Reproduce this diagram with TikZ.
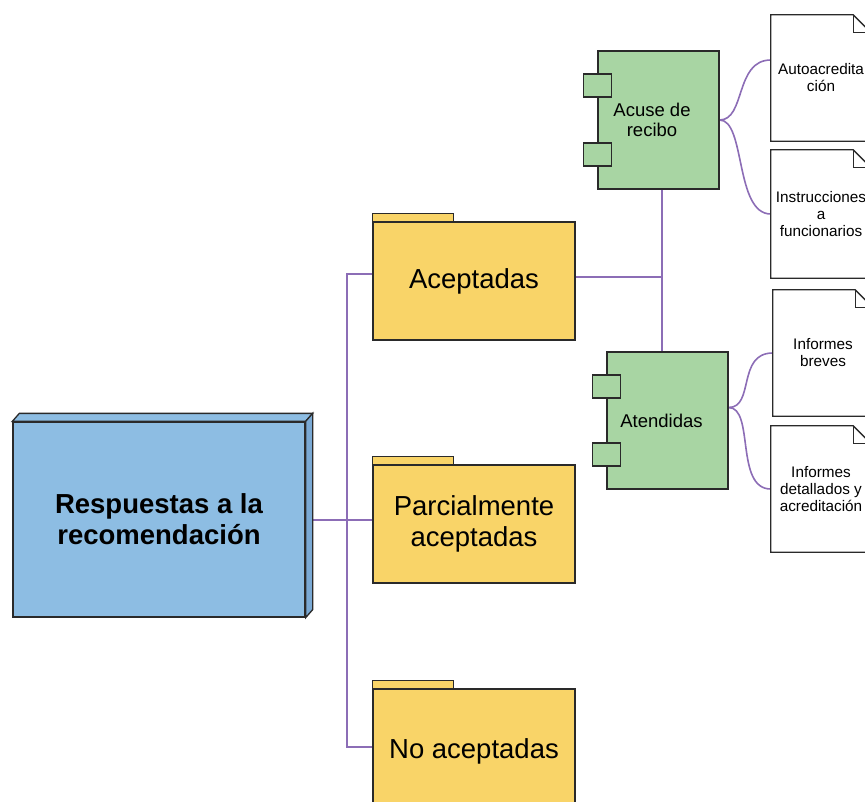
\documentclass[tikz,border=0pt]{standalone}
\usepackage{fontspec}
\setmainfont{Liberation Sans}
\usetikzlibrary{backgrounds,calc}
\definecolor{bluef}{HTML}{8DBDE3}
\definecolor{blues}{HTML}{7AA9D4}
\definecolor{yellowf}{HTML}{F9D468}
\definecolor{greenf}{HTML}{A8D5A3}
\definecolor{purp}{HTML}{8C6DB6}
\definecolor{edge}{HTML}{2A2A2A}
\tikzset{
  outl/.style={draw=edge, line width=1.3pt, inner sep=0pt},
  folder/.style={outl, fill=yellowf, minimum width=202pt, minimum height=118pt, font=\fontsize{27.5}{31}\selectfont, align=center},
  comp/.style={outl, fill=greenf, minimum width=121pt, minimum height=138pt},
  comptext/.style={font=\fontsize{18.5}{20.5}\selectfont, align=center, inner sep=0pt},
  port/.style={outl, fill=greenf, minimum width=28pt, minimum height=23pt},
  docnode/.style={inner sep=0pt, minimum width=100pt, minimum height=126pt, font=\fontsize{15.3}{17}\selectfont, align=center},
  conn/.style={draw=purp, line width=1.6pt},
}
\begin{document}
\begin{tikzpicture}[x=1pt,y=-1pt]
\useasboundingbox (0,0) rectangle (865,801);
% main box
\node[outl, fill=bluef, minimum width=292pt, minimum height=195pt, font=\bfseries\fontsize{27.5}{31}\selectfont, align=center] (resp) at (159,519.5) {Respuestas a la\\recomendación};
\filldraw[outl, fill=bluef] (resp.north west) -- ++(7,-8) -- ($(resp.north east)+(7,-8)$) -- (resp.north east) -- cycle;
\filldraw[outl, fill=blues] (resp.north east) -- ++(7,-8) -- ($(resp.south east)+(7,-8)$) -- (resp.south east) -- cycle;
% folders
\node[folder] (acep) at (474,281) {Aceptadas};
\node[folder] (parc) at (474,524) {Parcialmente\\aceptadas};
\node[folder, minimum height=124pt] (noac) at (474,751) {No aceptadas};
\foreach \f in {acep,parc,noac}{
  \filldraw[outl, fill=yellowf] (\f.north west) rectangle ++(81,-8);
}
% components
\node[comp] (acuse) at (658.5,120) {};
\node[comp, minimum height=137pt] (aten) at (667.5,420.5) {};
\node[comptext] (acuseT) at (652,120) {Acuse de\\recibo};
\node[comptext] (atenT) at (661.5,421) {Atendidas};
\node[port] (p1) at ($(acuse.west)+(0,-34.5)$) {};
\node[port] (p2) at ($(acuse.west)+(0,34.5)$) {};
\node[port] (p3) at ($(aten.west)+(0,-34)$) {};
\node[port] (p4) at ($(aten.west)+(0,34)$) {};
% documents
\node[docnode] (d1) at (821,78) {Autoacredita\\ción};
\node[docnode, minimum height=128pt] (d2) at (821,214) {Instrucciones\\a\\funcionarios};
\node[docnode] (d3) at (823,353) {Informes\\breves};
\node[docnode] (d4) at (821,489) {Informes\\detallados y\\acreditación};
\foreach \d in {d1,d2,d3,d4}{
  \draw[outl] (\d.south west) -- (\d.north west) -- ([xshift=-18pt]\d.north east) -- ([yshift=-18pt]\d.north east) -- (\d.south east) -- cycle;
  \draw[outl] ([xshift=-18pt]\d.north east) |- ([yshift=-18pt]\d.north east);
}
% connectors
\begin{scope}[on background layer]
\coordinate (t1) at (347,274);
\coordinate (t2) at (347,747);
\coordinate (h) at (347,520);
\coordinate (v) at (662,277);
\draw[conn] (resp.east |- h) -- (parc.west |- h);
\draw[conn] (acep.west |- t1) -- (t1) -- (t2) -- (noac.west |- t2);
\draw[conn] (acep.east |- v) -- (v);
\draw[conn] (acuse.south -| v) -- (aten.north -| v);
\draw[conn] (acuse.east) .. controls +(26,0) and +(-36,0) .. ([yshift=18pt]d1.west);
\draw[conn] (acuse.east) .. controls +(26,0) and +(-36,0) .. (d2.west);
\draw[conn] ([yshift=13pt]aten.east) .. controls +(26,0) and +(-36,0) .. (d3.west);
\draw[conn] ([yshift=13pt]aten.east) .. controls +(26,0) and +(-36,0) .. (d4.west);
\end{scope}
\end{tikzpicture}
\end{document}
